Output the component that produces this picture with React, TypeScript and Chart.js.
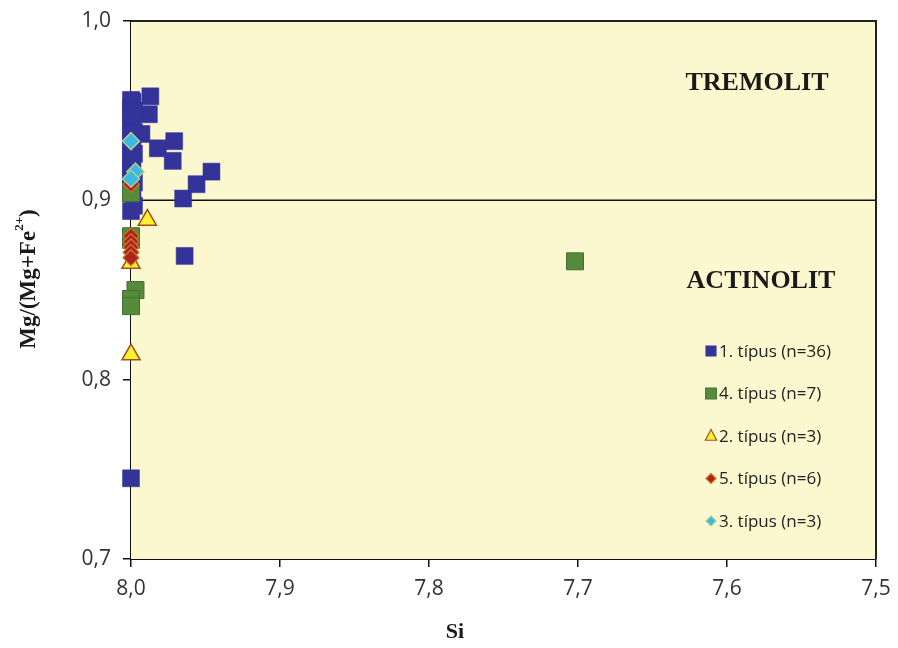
import React, { useEffect, useRef } from "react";
import { Chart, registerables } from "chart.js";

Chart.register(...registerables);

// ---- Data ----
const xTicks = [8.0, 7.9, 7.8, 7.7, 7.6, 7.5];
const yTicks = [0.7, 0.8, 0.9, 1.0];

const type1Si = [8.0, 8.0, 8.0, 8.0, 8.0, 8.0, 8.0, 8.0, 8.0, 8.0, 8.0, 8.0, 8.0, 8.0, 8.0, 8.0,
  7.987, 7.988, 7.993, 7.982, 7.971, 7.972, 7.946, 7.956, 7.965, 7.964,
  7.999, 7.998, 7.999, 7.998, 7.999, 7.998, 7.999, 7.998, 7.999, 7.998];
const type1Mg = [0.956, 0.952, 0.948, 0.944, 0.940, 0.936, 0.932, 0.928, 0.924, 0.920, 0.916, 0.912, 0.908, 0.904, 0.894, 0.745,
  0.958, 0.948, 0.937, 0.929, 0.933, 0.922, 0.916, 0.909, 0.901, 0.869,
  0.955, 0.950, 0.946, 0.938, 0.930, 0.926, 0.918, 0.910, 0.906, 0.897];

const type4Si = [8.0, 8.0, 7.997, 8.0, 8.0, 7.702, 8.0];
const type4Mg = [0.904, 0.878, 0.850, 0.845, 0.841, 0.866, 0.880];

const type2Si = [7.989, 8.0, 8.0];
const type2Mg = [0.889, 0.865, 0.814];

const type5Si = [8.0, 8.0, 8.0, 8.0, 8.0, 8.0];
const type5Mg = [0.909, 0.880, 0.877, 0.874, 0.871, 0.868];

const type3Si = [8.0, 7.997, 8.0];
const type3Mg = [0.933, 0.916, 0.912];

const seriesLabels = ["1. típus (n=36)", "4. típus (n=7)", "2. típus (n=3)", "5. típus (n=6)", "3. típus (n=3)"];
const boundaryValue = 0.9;
const regionLabels = ["TREMOLIT", "ACTINOLIT"];
const regionLabelY = [0.965, 0.855];
const xTitle = "Si";

const pts = (xs: number[], ys: number[]) => xs.map((x, i) => ({ x, y: ys[i] }));

const BLUE = "#333399";
const GREEN = "#568B3C";
const GREEN_B = "#437030";
const YELLOW = "#FFF22E";
const YELLOW_B = "#A0521E";
const RED = "#B0231B";
const RED_B = "#C9772E";
const CYAN = "#3CB8E6";
const CYAN_B = "#A7D08A";

const legendStyles = [
  { shape: "rect", fill: BLUE, stroke: BLUE, r: 7 },
  { shape: "rect", fill: GREEN, stroke: GREEN_B, r: 7.5 },
  { shape: "triangle", fill: YELLOW, stroke: YELLOW_B, r: 6.5 },
  { shape: "rectRot", fill: RED, stroke: RED_B, r: 5 },
  { shape: "rectRot", fill: CYAN, stroke: CYAN_B, r: 5 },
];

const fmt = (v: number) => v.toFixed(1).replace(".", ",");

const decorPlugin = {
  id: "decor",
  beforeDatasetsDraw(chart: any) {
    const { ctx, chartArea: a, scales } = chart;
    ctx.save();
    ctx.fillStyle = "rgb(251,247,206)";
    ctx.fillRect(a.left, a.top, a.right - a.left, a.bottom - a.top);
    // boundary line
    const yb = scales.y.getPixelForValue(boundaryValue);
    ctx.strokeStyle = "#111";
    ctx.lineWidth = 1.5;
    ctx.beginPath();
    ctx.moveTo(a.left, yb);
    ctx.lineTo(a.right, yb);
    ctx.stroke();
    // border
    ctx.lineWidth = 2;
    ctx.strokeStyle = "#222";
    ctx.beginPath();
    ctx.moveTo(a.left, a.top);
    ctx.lineTo(a.right, a.top);
    ctx.lineTo(a.right, a.bottom);
    ctx.stroke();
    // region labels
    ctx.fillStyle = "#1a1a1a";
    ctx.font = "bold 26px 'Liberation Serif', 'DejaVu Serif', serif";
    ctx.textAlign = "center";
    ctx.textBaseline = "middle";
    ctx.fillText(regionLabels[0], 749, scales.y.getPixelForValue(regionLabelY[0]));
    ctx.fillText(regionLabels[1], 753, scales.y.getPixelForValue(regionLabelY[1]));
    ctx.restore();
  },
  afterDraw(chart: any) {
    const { ctx } = chart;
    ctx.save();
    // legend
    const ly0 = 343;
    const dy = 42.5;
    ctx.font = "17px 'Open Sans', 'Noto Sans', sans-serif";
    ctx.textBaseline = "middle";
    ctx.textAlign = "left";
    seriesLabels.forEach((lab, i) => {
      const s = legendStyles[i];
      const y = ly0 + i * dy;
      ctx.fillStyle = s.fill;
      ctx.strokeStyle = s.stroke;
      ctx.lineWidth = 1.2;
      const x = 703;
      ctx.beginPath();
      if (s.shape === "rect") {
        const h = s.r * Math.SQRT1_2;
        ctx.rect(x - h, y - h, 2 * h, 2 * h);
      } else if (s.shape === "triangle") {
        ctx.moveTo(x, y - s.r);
        ctx.lineTo(x + s.r * 0.866, y + s.r * 0.5 + 1);
        ctx.lineTo(x - s.r * 0.866, y + s.r * 0.5 + 1);
        ctx.closePath();
      } else {
        ctx.moveTo(x, y - s.r);
        ctx.lineTo(x + s.r, y);
        ctx.lineTo(x, y + s.r);
        ctx.lineTo(x - s.r, y);
        ctx.closePath();
      }
      ctx.fill();
      ctx.stroke();
      ctx.fillStyle = "#222";
      ctx.fillText(lab, 711, y + 1);
    });
    // x title
    ctx.font = "bold 22px 'Liberation Serif', 'DejaVu Serif', serif";
    ctx.textAlign = "center";
    ctx.textBaseline = "middle";
    ctx.fillStyle = "#1a1a1a";
    ctx.fillText(xTitle, 447, 624);
    // y title with superscript
    ctx.translate(19, 271);
    ctx.rotate(-Math.PI / 2);
    const big = "bold 23px 'Liberation Serif', 'DejaVu Serif', serif";
    const small = "bold 13px 'Liberation Serif', 'DejaVu Serif', serif";
    const p1 = "Mg/(Mg+Fe";
    const p2 = "2+";
    const p3 = ")";
    ctx.font = big;
    const w1 = ctx.measureText(p1).width;
    const w3 = ctx.measureText(p3).width;
    ctx.font = small;
    const w2 = ctx.measureText(p2).width;
    const total = w1 + w2 + w3;
    let cx = -total / 2;
    ctx.textAlign = "left";
    ctx.textBaseline = "alphabetic";
    ctx.font = big;
    ctx.fillText(p1, cx, 8);
    cx += w1;
    ctx.font = small;
    ctx.fillText(p2, cx, -4);
    cx += w2;
    ctx.font = big;
    ctx.fillText(p3, cx, 8);
    ctx.restore();
  },
};

const zeroPad = (s: any) => {
  s.paddingTop = 0;
  s.paddingBottom = 0;
  s.paddingLeft = 0;
  s.paddingRight = 0;
};

export default function App() {
  const ref = useRef<HTMLCanvasElement>(null);
  useEffect(() => {
    if (!ref.current) return;
    const chart = new Chart(ref.current, {
      type: "scatter",
      data: {
        datasets: [
          {
            label: seriesLabels[0], data: pts(type1Si, type1Mg), order: 5, clip: false as any,
            pointStyle: "rect", pointRadius: 12, backgroundColor: BLUE, borderColor: BLUE, borderWidth: 0.5,
          },
          {
            label: seriesLabels[1], data: pts(type4Si, type4Mg), order: 4, clip: false as any,
            pointStyle: "rect", pointRadius: 12, backgroundColor: GREEN, borderColor: GREEN_B, borderWidth: 1,
          },
          {
            label: seriesLabels[2], data: pts(type2Si, type2Mg), order: 3, clip: false as any,
            pointStyle: "triangle", pointRadius: 10.5, backgroundColor: YELLOW, borderColor: YELLOW_B, borderWidth: 1.5,
          },
          {
            label: seriesLabels[3], data: pts(type5Si, type5Mg), order: 2, clip: false as any,
            pointStyle: "rectRot", pointRadius: 8, backgroundColor: RED, borderColor: RED_B, borderWidth: 1.2,
          },
          {
            label: seriesLabels[4], data: pts(type3Si, type3Mg), order: 1, clip: false as any,
            pointStyle: "rectRot", pointRadius: 8.5, backgroundColor: CYAN, borderColor: CYAN_B, borderWidth: 1.5,
          },
        ],
      },
      options: {
        animation: false,
        responsive: true,
        maintainAspectRatio: false,
        layout: { padding: { left: 0, right: 14, top: 9, bottom: 0 } },
        plugins: { legend: { display: false }, tooltip: { enabled: false } },
        scales: {
          x: {
            type: "linear",
            reverse: true,
            min: 7.5,
            max: 8.0,
            afterFit: (s: any) => { s.height = 81; zeroPad(s); },
            afterBuildTicks: (s: any) => { s.ticks = xTicks.map((v) => ({ value: v })); },
            border: { color: "#111", width: 2 },
            grid: { drawOnChartArea: false, tickLength: 8, color: "#111", lineWidth: 1.5 },
            ticks: {
              padding: 9,
              color: "#333",
              font: { family: "'Open Sans', 'Noto Sans', sans-serif", size: 21 },
              callback: (v: any) => fmt(Number(v)),
            },
          },
          y: {
            type: "linear",
            min: 0.7,
            max: 1.0,
            afterFit: (s: any) => { s.width = 123; zeroPad(s); },
            afterBuildTicks: (s: any) => { s.ticks = yTicks.map((v) => ({ value: v })); },
            border: { color: "#111", width: 2 },
            grid: { drawOnChartArea: false, tickLength: 8, color: "#111", lineWidth: 1.5 },
            ticks: {
              padding: 12,
              color: "#333",
              font: { family: "'Open Sans', 'Noto Sans', sans-serif", size: 21 },
              callback: (v: any) => fmt(Number(v)),
            },
          },
        },
      },
      plugins: [decorPlugin],
    });
    return () => chart.destroy();
  }, []);
  return (
    <div style={{ width: 882, height: 632, position: "relative" }}>
      <canvas ref={ref} />
    </div>
  );
}
